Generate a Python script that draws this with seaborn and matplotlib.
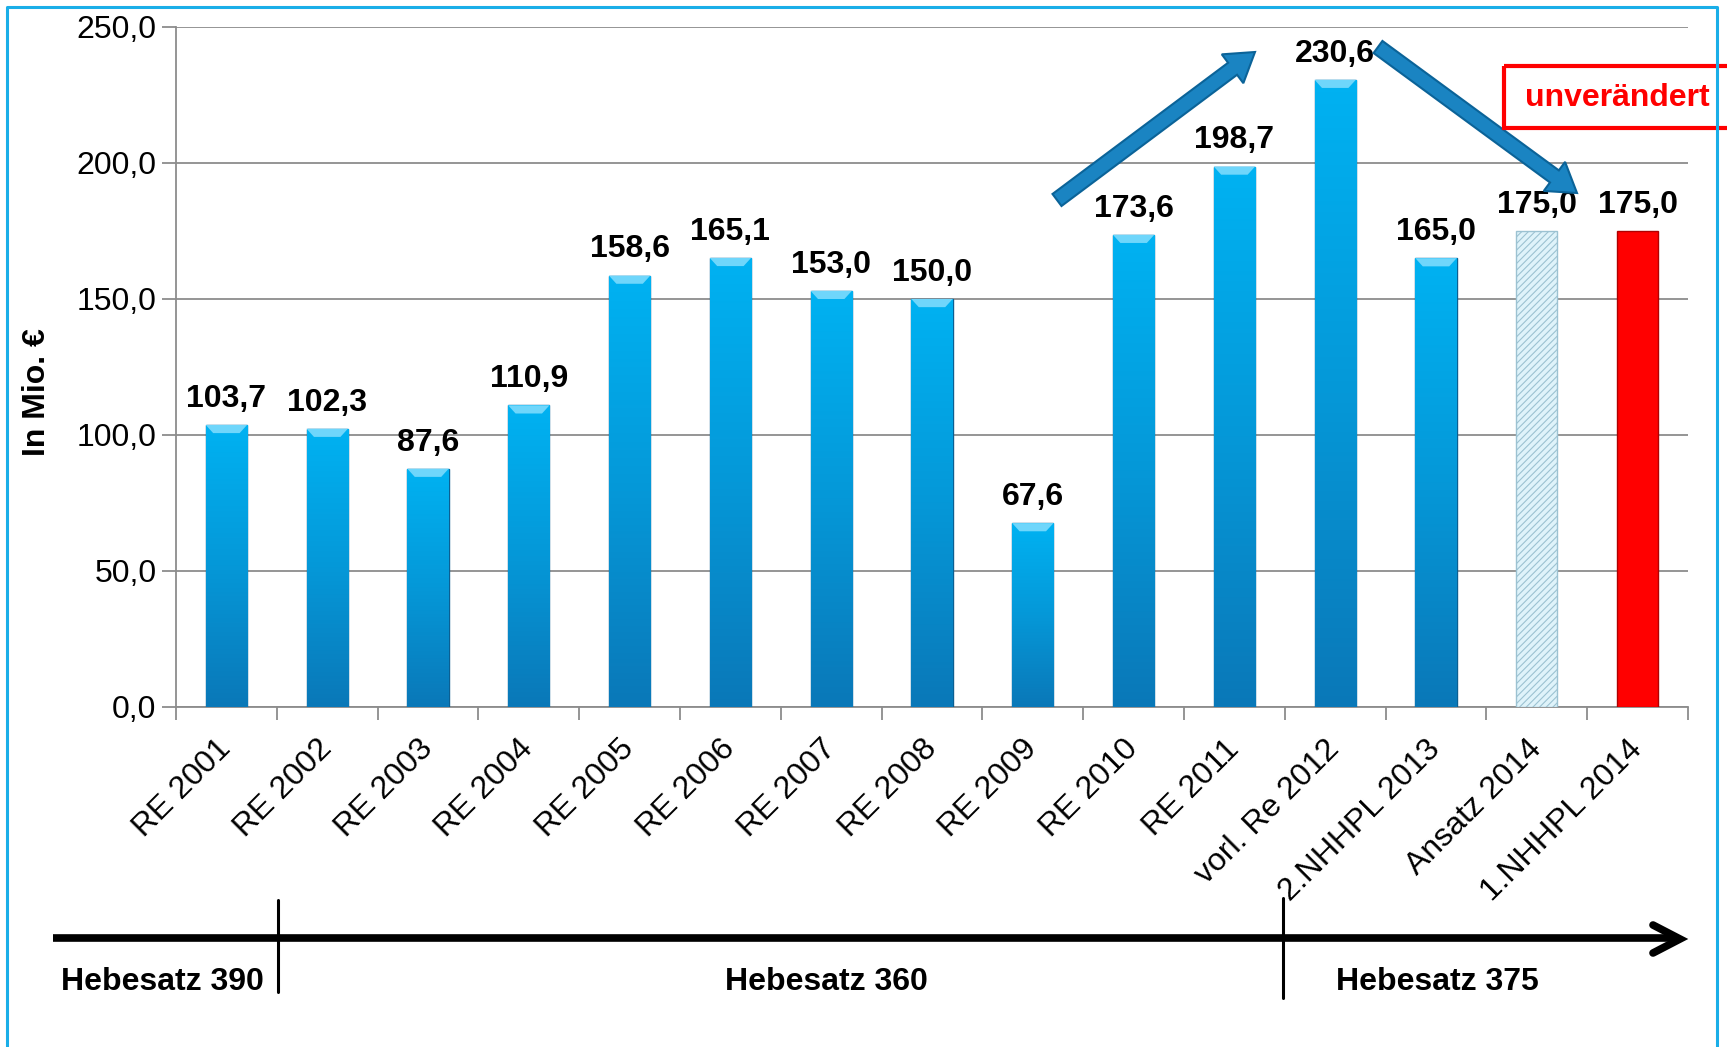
import matplotlib
matplotlib.use("Agg")
import matplotlib.pyplot as plt
import seaborn as sns
import numpy as np
from matplotlib.patches import FancyArrow, Rectangle, Polygon
from matplotlib.colors import LinearSegmentedColormap

categories = ["RE 2001", "RE 2002", "RE 2003", "RE 2004", "RE 2005", "RE 2006",
              "RE 2007", "RE 2008", "RE 2009", "RE 2010", "RE 2011",
              "vorl. Re 2012", "2.NHHPL 2013", "Ansatz 2014", "1.NHHPL 2014"]
values = [103.7, 102.3, 87.6, 110.9, 158.6, 165.1, 153.0, 150.0, 67.6,
          173.6, 198.7, 230.6, 165.0, 175.0, 175.0]
bar_colors = ["#0aa6e8"] * 13 + ["#dff3fa", "#ff0000"]
y_ticks = [0, 50, 100, 150, 200, 250]
periods = ["Hebesatz 390", "Hebesatz 360", "Hebesatz 375"]

W, H = 1727, 1047
FS = 23


def fmt(v):
    return f"{v:.1f}".replace(".", ",")


sns.set_theme(style="white")
plt.rcParams["font.family"] = ["Liberation Sans", "DejaVu Sans"]
plt.rcParams["hatch.linewidth"] = 0.8
plt.rcParams["text.color"] = "black"
plt.rcParams["axes.labelcolor"] = "black"
plt.rcParams["xtick.color"] = "black"
plt.rcParams["ytick.color"] = "black"

fig = plt.figure(figsize=(W / 100, H / 100), dpi=100)
fig.patch.set_facecolor("white")
ax = fig.add_axes([176 / W, 1 - 707 / H, (1688 - 176) / W, (707 - 27) / H])

sns.barplot(x=categories, y=values, hue=categories, palette=bar_colors,
            width=0.41, saturation=1, legend=False, ax=ax, zorder=3)

# gradient fill + light top bevel on the blue bars
grad = np.linspace(0, 1, 256).reshape(-1, 1)
cmap = LinearSegmentedColormap.from_list("bar", ["#0a78b8", "#0598d8", "#00b2f2"])
for i, p in enumerate(ax.patches):
    if i < 13:
        p.set_edgecolor("#0b5f92")
        p.set_linewidth(1.0)
        x0, y0 = p.get_x(), p.get_y()
        w, h = p.get_width(), p.get_height()
        im = ax.imshow(grad, extent=[x0, x0 + w, y0, y0 + h], origin="lower",
                       cmap=cmap, aspect="auto", zorder=3.5)
        im.set_clip_path(p)
        top = y0 + h
        ax.add_patch(Polygon([[x0, top], [x0 + w, top], [x0 + w * 0.82, top - 3],
                              [x0 + w * 0.18, top - 3]], closed=True,
                             facecolor="#6fd6fb", edgecolor="none", zorder=3.6))
    elif i == 13:
        p.set_hatch("/////")
        p.set_edgecolor("#9cc2d2")
        p.set_linewidth(1.0)
    else:
        p.set_edgecolor("#b00000")
        p.set_linewidth(1.0)

for cont, v in zip(ax.containers, values):
    ax.bar_label(cont, labels=[fmt(v)], padding=8, fontsize=FS,
                 fontweight="bold", color="black")

ax.set_xlim(-0.5, len(categories) - 0.5)
ax.set_ylim(0, 250)
ax.set_yticks(y_ticks)
ax.set_yticklabels([fmt(t) for t in y_ticks], fontsize=FS)
ax.yaxis.grid(True, color="#8c8c8c", linewidth=1.3, zorder=0)
ax.set_axisbelow(True)

ax.set_xticks(range(len(categories)))
ax.set_xticklabels(categories, rotation=45, ha="right", va="center",
                   rotation_mode="anchor", fontsize=FS)
ax.set_xticks(np.arange(-0.5, len(categories)), minor=True)
ax.tick_params(axis="x", which="major", length=0, pad=27)
ax.tick_params(axis="x", which="minor", length=9, color="#8c8c8c", width=1.3,
               direction="out", bottom=True)
ax.tick_params(axis="y", length=10, color="#8c8c8c", width=1.3,
               direction="out", left=True, pad=4)

for s in ["top", "right"]:
    ax.spines[s].set_visible(False)
for s in ["left", "bottom"]:
    ax.spines[s].set_color("#8c8c8c")
    ax.spines[s].set_linewidth(1.3)

ax.set_xlabel("")
ax.set_ylabel("In Mio. €", fontsize=FS, fontweight="bold")
ax.yaxis.set_label_coords((52 - 176) / 1512, (707 - 392) / 680)

# overlay in pixel coordinates for annotations
ov = fig.add_axes([0, 0, 1, 1], zorder=5)
ov.set_xlim(0, W)
ov.set_ylim(H, 0)
ov.axis("off")
ov.patch.set_alpha(0)

# blue frame
ov.plot([7, 7, 1717, 1717], [H + 10, 7, 7, H + 10], color="#1aaee8",
        linewidth=2.2, clip_on=False)

# trend arrows
for (xs, ys, xe, ye) in [(1057, 200, 1255, 52), (1378, 47, 1577, 193)]:
    ov.add_patch(FancyArrow(xs, ys, xe - xs, ye - ys, width=15, head_width=36,
                            head_length=28, length_includes_head=True,
                            facecolor="#1a84c2", edgecolor="#0b6398",
                            linewidth=1.5))

# "unverändert" box
ov.add_patch(Rectangle((1504, 66), 260, 62, fill=False, edgecolor="#ff0000",
                       linewidth=3, clip_on=True))
ov.text(1617, 98, "unverändert", color="#ff0000", fontsize=FS,
        fontweight="bold", ha="center", va="center")

# Hebesatz timeline
ov.plot([53, 1678], [938, 938], color="black", linewidth=5.5,
        solid_capstyle="butt")
ov.plot([1653, 1680, 1653], [925, 939, 953], color="black", linewidth=5.5,
        solid_capstyle="round", solid_joinstyle="miter")
ov.plot([278, 278], [900, 992], color="black", linewidth=2.2)
ov.plot([1283, 1283], [898, 998], color="black", linewidth=2.2)
for label, xc in zip(periods, [162, 826, 1437]):
    ov.text(xc, 982, label, fontsize=FS, fontweight="bold", ha="center",
            va="center")

fig.savefig("out.png", dpi=100)
